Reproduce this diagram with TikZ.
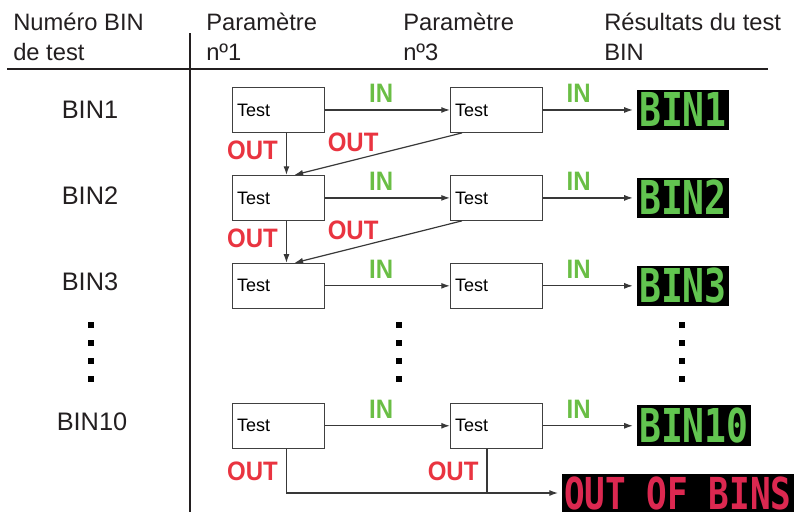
\documentclass[tikz,border=0pt]{standalone}
\usepackage{fontspec}
\setmainfont{Liberation Sans}
\newfontfamily\dispfont[FakeStretch=0.78]{DejaVu Sans Mono}
\newfontfamily\tagfont[FakeStretch=0.9]{Liberation Sans}
\usetikzlibrary{arrows.meta, positioning}

\definecolor{textgray}{HTML}{231F20}
\definecolor{boxgray}{HTML}{404040}
\definecolor{wiregray}{HTML}{383838}
\definecolor{ingreen}{HTML}{6ABE45}
\definecolor{outred}{HTML}{E93440}
\definecolor{dispgreen}{HTML}{62C450}
\definecolor{dispred}{HTML}{DC2850}

\begin{document}
\begin{tikzpicture}[
  x=0.75pt, y=-0.75pt,
  >={Latex[length=6.5pt, width=4.5pt]},
  head/.style    = {anchor=north west, align=left, inner sep=0pt, text=textgray,
                    font=\fontsize{17.8}{22}\selectfont},
  rowlab/.style  = {inner sep=0pt, text=textgray, font=\fontsize{19}{22}\selectfont},
  rule/.style    = {draw=textgray, line width=1.5pt},
  testbox/.style = {draw=boxgray, line width=0.7pt, minimum height=33.75pt,
                    text width=62pt, inner xsep=3.5pt, align=left,
                    font=\fontsize{13.5}{15}\selectfont},
  wire/.style    = {draw=wiregray, line width=0.9pt},
  inlab/.style   = {text=ingreen, inner sep=0pt, text height=14.5pt, text depth=0pt,
                    font=\tagfont\bfseries\fontsize{20}{20}\selectfont},
  outlab/.style  = {inlab, text=outred},
  bindisp/.style = {fill=black, text=dispgreen, inner xsep=1.5pt, inner ysep=2pt,
                    text height=26pt, text depth=0.5pt,
                    font=\dispfont\bfseries\fontsize{35}{35}\selectfont},
  oobdisp/.style = {bindisp, text=dispred, text height=24.5pt, inner ysep=1.5pt,
                    font=\dispfont\bfseries\fontsize{33}{33}\selectfont},
  dot/.style     = {fill=black, minimum size=4.5pt, inner sep=0pt},
]
  \useasboundingbox (0,0) rectangle (801,512);

  % column heads and table rules
  \node[head] (hbin)  at (13,13)  {Numéro BIN\\de test};
  \node[head] (hpar1) at (206,13) {Paramètre\\nº1};
  \node[head] (hpar3) at (403,13) {Paramètre\\nº3};
  \node[head] (hres)  at (604,13) {Résultats du test\\BIN};
  \draw[rule] (7,69) -- (768,69);
  \draw[rule] (190,33) -- (190,512);

  % row labels
  \node[rowlab] (r1)  at (90,110) {BIN1};
  \node[rowlab] (r2)  at (90,196) {BIN2};
  \node[rowlab] (r3)  at (90,282) {BIN3};
  \node[rowlab] (r10) at (92,422) {BIN10};

  % test boxes
  \node[testbox, anchor=north west] (t11) at (232,87) {Test};
  \node[testbox, right=93.75pt of t11]  (t13)  {Test};
  \node[testbox, below=31.5pt of t11]   (t21)  {Test};
  \node[testbox, right=93.75pt of t21]  (t23)  {Test};
  \node[testbox, below=31.5pt of t21]   (t31)  {Test};
  \node[testbox, right=93.75pt of t31]  (t33)  {Test};
  \node[testbox, below=70.5pt of t31]   (t101) {Test};
  \node[testbox, right=93.75pt of t101] (t103) {Test};

  % result displays
  \node[bindisp, right=70.5pt of t13]  (bin1)  {BIN1};
  \node[bindisp, right=70.5pt of t23]  (bin2)  {BIN2};
  \node[bindisp, right=70.5pt of t33]  (bin3)  {BIN3};
  \node[bindisp, right=70.5pt of t103] (bin10) {BIN10};
  \node[oobdisp, anchor=west] (oob) at (562,493) {OUT OF BINS};

  % vertical ellipses
  \node[dot] (dl1) at (91,325) {};  \node[dot] (dl2) at (91,343) {};
  \node[dot] (dl3) at (91,361) {};  \node[dot] (dl4) at (91,379) {};
  \node[dot] (dm1) at (399,325) {}; \node[dot] (dm2) at (399,343) {};
  \node[dot] (dm3) at (399,361) {}; \node[dot] (dm4) at (399,379) {};
  \node[dot] (dr1) at (682,325) {}; \node[dot] (dr2) at (682,343) {};
  \node[dot] (dr3) at (682,361) {}; \node[dot] (dr4) at (682,379) {};

  % IN paths
  \draw[wire, ->] (t11.east)  -- node[inlab, pos=0.45, above=5pt]{IN} (t13.west);
  \draw[wire, ->] (t21.east)  -- node[inlab, pos=0.45, above=5pt]{IN} (t23.west);
  \draw[wire, ->] (t31.east)  -- node[inlab, pos=0.45, above=5pt]{IN} (t33.west);
  \draw[wire, ->] (t101.east) -- node[inlab, pos=0.45, above=5pt]{IN} (t103.west);
  \draw[wire, ->, shorten >=3pt] (t13.east)  -- node[inlab, pos=0.38, above=5pt]{IN} (bin1.west);
  \draw[wire, ->, shorten >=3pt] (t23.east)  -- node[inlab, pos=0.38, above=5pt]{IN} (bin2.west);
  \draw[wire, ->, shorten >=3pt] (t33.east)  -- node[inlab, pos=0.38, above=5pt]{IN} (bin3.west);
  \draw[wire, ->, shorten >=3pt] (t103.east) -- node[inlab, pos=0.38, above=5pt]{IN} (bin10.west);

  % OUT paths down to the next BIN row
  \draw[wire, ->] ([xshift=6pt]t11.south) -- node[outlab, pos=0.4, left=6pt]{OUT} ([xshift=6pt]t21.north);
  \draw[wire, ->] ([xshift=6pt]t21.south) -- node[outlab, pos=0.4, left=6pt]{OUT} ([xshift=6pt]t31.north);
  \draw[wire, ->] ([xshift=9pt]t13.south west) -- node[outlab, pos=0.65, above=6pt]{OUT} ([xshift=12pt]t21.north);
  \draw[wire, ->] ([xshift=9pt]t23.south west) -- node[outlab, pos=0.65, above=6pt]{OUT} ([xshift=12pt]t31.north);

  % last row: both OUT paths merge into OUT OF BINS
  \coordinate (o1) at ([xshift=6pt]t101.south);
  \coordinate (o3) at ([xshift=-7pt]t103.south);
  \draw[wire, ->, shorten >=3pt] (o1) |- node[outlab, pos=0.25, left=6pt]{OUT} (oob.west);
  \draw[wire] (o3) -- node[outlab, midway, left=6pt]{OUT} (o3 |- oob.west);
\end{tikzpicture}
\end{document}
